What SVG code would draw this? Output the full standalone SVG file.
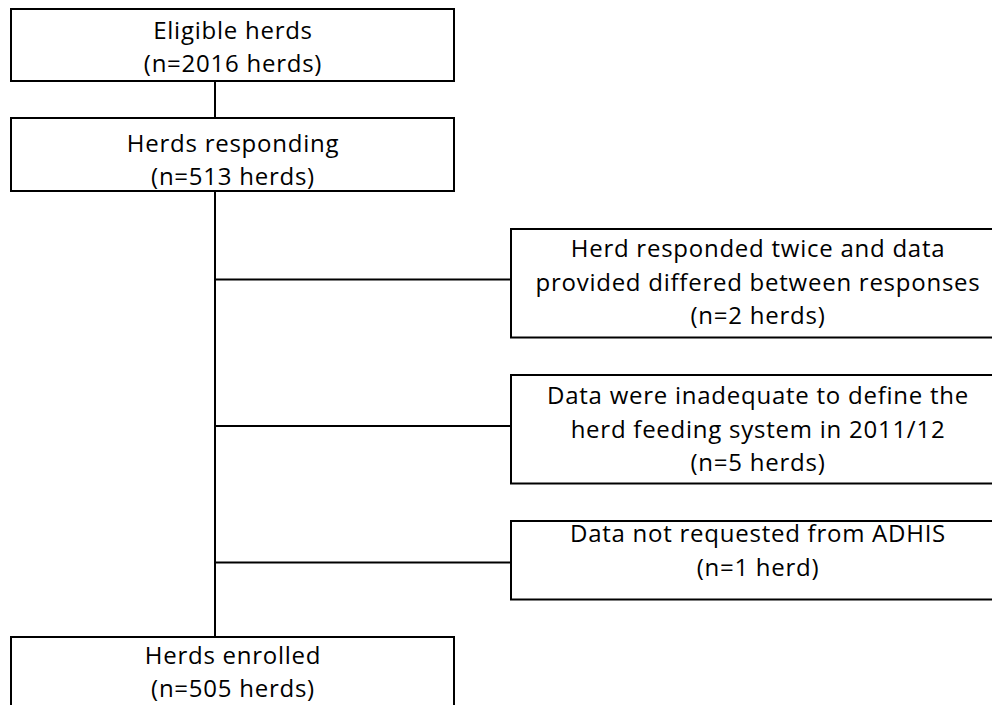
<svg xmlns="http://www.w3.org/2000/svg" width="992" height="705" viewBox="0 0 992 705">
<style>
.box{fill:#fff;stroke:#000;stroke-width:2}
.ln{fill:none;stroke:#000;stroke-width:2}
text{font-family:"Open Sans","Liberation Sans",sans-serif;font-size:24px;letter-spacing:0.75px;fill:#000;text-anchor:middle}
</style>
<rect width="992" height="705" fill="#fff"/>
<g id="connectors">
<line class="ln" x1="215" y1="81" x2="215" y2="118"/>
<line class="ln" x1="215" y1="191" x2="215" y2="637"/>
<line class="ln" x1="215" y1="279.5" x2="511" y2="279.5"/>
<line class="ln" x1="215" y1="426" x2="511" y2="426"/>
<line class="ln" x1="215" y1="562.5" x2="511" y2="562.5"/>
</g>
<g id="eligible">
<rect class="box" x="11" y="9" width="443" height="72"/>
<text x="233" y="39">Eligible herds</text>
<text x="233" y="72">(n=2016 herds)</text>
</g>
<g id="responding">
<rect class="box" x="11" y="118" width="443" height="73"/>
<text x="233" y="152">Herds responding</text>
<text x="233" y="185">(n=513 herds)</text>
</g>
<g id="excl-twice">
<rect class="box" x="511" y="229" width="495" height="108.5"/>
<text x="758" y="257">Herd responded twice and data</text>
<text x="758" y="290.5">provided differed between responses</text>
<text x="758" y="324">(n=2 herds)</text>
</g>
<g id="excl-inadequate">
<rect class="box" x="511" y="375" width="495" height="108.5"/>
<text x="758" y="404">Data were inadequate to define the</text>
<text x="758" y="437.5">herd feeding system in 2011/12</text>
<text x="758" y="471">(n=5 herds)</text>
</g>
<g id="excl-adhis">
<rect class="box" x="511" y="521" width="495" height="78.5"/>
<text x="758" y="542">Data not requested from ADHIS</text>
<text x="758" y="576">(n=1 herd)</text>
</g>
<g id="enrolled">
<rect class="box" x="11" y="637" width="443" height="90"/>
<text x="233" y="663.5">Herds enrolled</text>
<text x="233" y="697">(n=505 herds)</text>
</g>
</svg>
